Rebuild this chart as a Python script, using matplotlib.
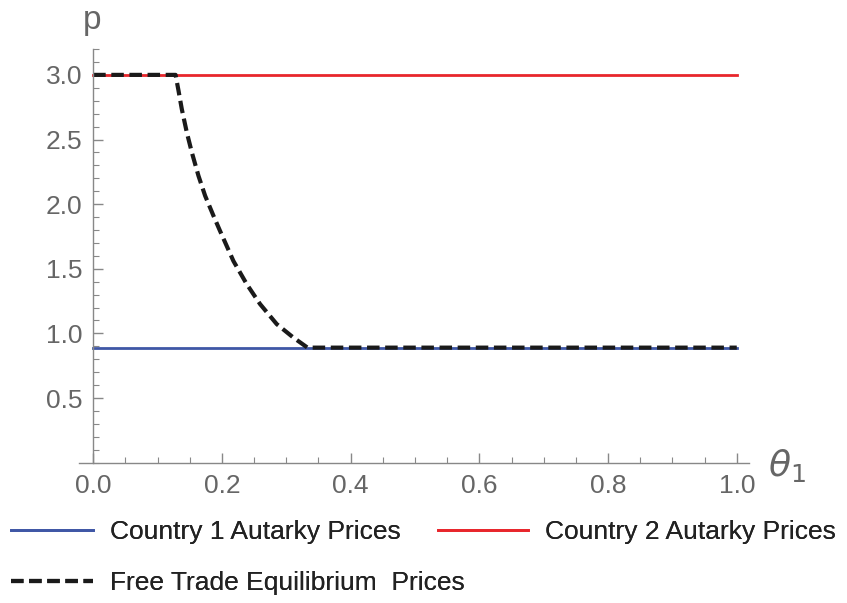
import numpy as np
import matplotlib.pyplot as plt
from matplotlib.ticker import MultipleLocator

plt.rcParams['font.family'] = ['Liberation Sans', 'DejaVu Sans']
plt.rcParams['mathtext.fontset'] = 'dejavusans'

# datos
theta = [0.0, 1.0]
p_pais1 = [0.89, 0.89]   # autarquia pais 1
p_pais2 = [3.0, 3.0]     # autarquia pais 2

# precios de equilibrio con libre comercio
theta_ft = [0.0, 0.128, 0.1325, 0.1377, 0.1455, 0.1533, 0.1636, 0.174, 0.1869,
            0.197, 0.2179, 0.2386, 0.2593, 0.2852, 0.311, 0.333, 1.0]
p_ft = [3.0, 3.0, 2.88, 2.735, 2.554, 2.40, 2.219, 2.064, 1.91,
        1.794, 1.56, 1.381, 1.227, 1.072, 0.968, 0.89, 0.89]

etiquetas = ['Country 1 Autarky Prices', 'Country 2 Autarky Prices',
             'Free Trade Equilibrium  Prices']

gris = '#666666'
azul = '#3f57a6'
rojo = '#e8262c'

fig = plt.figure(figsize=(8.47, 6.03), dpi=100)
ax = fig.add_axes([0.0933, 0.2327, 0.791, 0.686])

l1, = ax.plot(theta, p_pais1, color=azul, lw=2.0)
l2, = ax.plot(theta, p_pais2, color=rojo, lw=2.0)
l3, = ax.plot(theta_ft, p_ft, color='#1a1a1a', lw=3.0, dashes=(3.0, 1.35))

ax.set_xlim(-0.022, 1.019)
ax.set_ylim(0, 3.2)

ax.spines['top'].set_visible(False)
ax.spines['right'].set_visible(False)
ax.spines['left'].set_position(('data', 0))
for s in ['left', 'bottom']:
    ax.spines[s].set_color('#888888')
    ax.spines[s].set_linewidth(1.0)

ax.xaxis.set_minor_locator(MultipleLocator(0.05))
ax.yaxis.set_minor_locator(MultipleLocator(0.1))
ax.set_xticks([0.0, 0.2, 0.4, 0.6, 0.8, 1.0])
ax.set_yticks([0.5, 1.0, 1.5, 2.0, 2.5, 3.0])
ax.set_xticklabels(['0.0', '0.2', '0.4', '0.6', '0.8', '1.0'])
ax.set_yticklabels(['0.5', '1.0', '1.5', '2.0', '2.5', '3.0'])
ax.tick_params(which='major', direction='in', length=7, width=1, color='#888888',
               labelsize=19, labelcolor=gris, pad=8)
ax.tick_params(which='minor', direction='in', length=4, width=0.8, color='#888888')

fig.text(92 / 847, 1 - 20 / 603, 'p', fontsize=24, color=gris, ha='center', va='center')
fig.text(768 / 847, 1 - 466 / 603, r'$\theta_1$', fontsize=26, color=gris,
         ha='left', va='center')

# leyenda: una entrada por caja para ubicarlas como en el original
entradas = [(l1, etiquetas[0], 11, 532, 3.1),
            (l2, etiquetas[1], 438, 532, 3.4),
            (l3, etiquetas[2], 11, 583, 3.1)]
for h, txt, x0, y0, largo in entradas:
    ley = fig.legend(handles=[h], labels=[txt], loc='center left',
                     bbox_to_anchor=(x0 / 847, 1 - y0 / 603), frameon=False,
                     fontsize=19, handlelength=largo, handletextpad=0.64,
                     borderpad=0, borderaxespad=0, labelcolor='#222222')
    fig.add_artist(ley)

fig.savefig('out.png', dpi=100)
